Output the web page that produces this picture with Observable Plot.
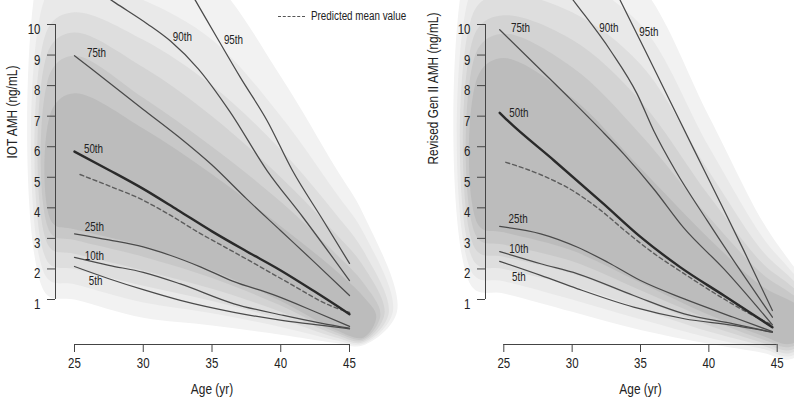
<!DOCTYPE html>
<html><head><meta charset="utf-8">
<script src="https://cdn.jsdelivr.net/npm/d3@7"></script>
<script src="https://cdn.jsdelivr.net/npm/@observablehq/plot@0.6"></script>
<style>
body{margin:0;background:#fff;}
#wrap{position:relative;width:794px;height:403px;overflow:hidden;font-family:"Liberation Sans",Arial,sans-serif;color:#222;}
#left,#right{position:absolute;top:0;}
#left{left:0;}#right{left:397px;}
#legend{position:absolute;left:278px;top:9px;font-size:12px;line-height:14px;color:#222;white-space:nowrap;z-index:5;}
#legend .sw{display:inline-block;width:27px;border-top:1.5px dashed #555;vertical-align:middle;margin-right:6px;}
#legend #legtext{display:inline-block;transform:scaleX(0.82);transform-origin:left center;}
</style></head><body>
<div id="wrap"><div id="left"></div><div id="right"></div><div id="legend"><span class="sw"></span><span id="legtext"></span></div></div>
<script>
// ---------- tick labels and texts ----------
const xTicks = [25, 30, 35, 40, 45];
const yTicks = [1, 2, 3, 4, 5, 6, 7, 8, 9, 10];
const xTitle = "Age (yr)";
const iotTitle = "IOT AMH (ng/mL)";
const genTitle = "Revised Gen II AMH (ng/mL)";
const legendLabel = "Predicted mean value";
const pctNames = ["5th", "10th", "25th", "50th", "75th", "90th", "95th"];

// ---------- IOT panel: [age, AMH] ----------
const iotP5  = [[25,2.08],[27.5,1.68],[30,1.32],[32.7,0.97],[36.6,0.58],[40.2,0.31],[43,0.15],[45,0.04]];
const iotP10 = [[25,2.38],[27.5,2.12],[30,1.89],[32.7,1.51],[36.6,0.86],[40.2,0.48],[43,0.22],[45,0.06]];
const iotP25 = [[25,3.15],[27.5,2.95],[30,2.72],[32,2.44],[34.2,2.06],[36.5,1.6],[39.5,1.15],[42.5,0.6],[45,0.12]];
const iotP50 = [[25,5.84],[27.5,5.24],[30,4.62],[32.5,3.93],[35,3.23],[37.5,2.58],[40,1.95],[42.5,1.25],[45,0.52]];
const iotP75 = [[25,8.98],[27.5,8.1],[30,7.22],[32.5,6.35],[35,5.4],[37.5,4.3],[40,3.25],[42.5,2.2],[45,1.13]];
const iotP90 = [[25,11.6],[28,10.7],[30.3,10.02],[32,9.45],[34,8.55],[36.3,7.15],[39,5.22],[41.6,3.7],[45,1.62]];
const iotP95 = [[32,12.17],[33.8,10.78],[35.4,9.54],[37.07,8.26],[39,6.86],[40.85,5.22],[43,3.65],[45,2.18]];
const iotMean = [[25.4,5.09],[27.5,4.72],[29.8,4.29],[32,3.75],[34,3.2],[36,2.7],[38,2.2],[40.7,1.51],[43.6,0.8],[45,0.58]];
const iotLabelAt = [[26.53,1.59],[26.45,2.41],[26.45,3.36],[26.38,5.91],[26.6,9.05],[32.85,9.57],[36.56,9.48]];

// ---------- Revised Gen II panel ----------
const genP5  = [[24.7,2.25],[27.7,1.79],[30.4,1.35],[34.5,0.75],[38.2,0.37],[41.8,0.15],[44.65,-0.07]];
const genP10 = [[24.7,2.57],[27.7,2.17],[30.4,1.84],[34.5,1.13],[38.2,0.53],[41.8,0.2],[44.65,-0.07]];
const genP25 = [[24.7,3.39],[27.7,3.15],[30.4,2.71],[32.6,2.22],[35,1.62],[38.2,1.02],[41.8,0.42],[44.65,-0.05]];
const genP50 = [[24.7,7.11],[25.27,6.86],[28.67,5.55],[32.3,4.13],[35,3.05],[37.9,2.06],[41.1,1.13],[44.65,0.09]];
const genP75 = [[24.7,9.83],[27.5,8.6],[30,7.5],[32.1,6.55],[33.8,5.75],[36,4.6],[38.15,3.35],[41.1,2.0],[44.65,0.17]];
const genP90 = [[28,12.0],[30.24,10.7],[32.8,9.15],[34.75,7.73],[35.96,6.53],[37.55,5.22],[39.87,3.59],[42.3,1.95],[44.65,0.42]];
const genP95 = [[31.5,12.6],[33.53,10.78],[35.34,9.15],[37.14,7.51],[38.94,5.88],[40.76,4.24],[42.56,2.6],[44.65,0.64]];
const genMean = [[25.15,5.49],[27.5,5.12],[29.9,4.6],[32,3.95],[34,3.2],[36,2.5],[38,1.9],[41.1,1.02],[42.8,0.58],[44.5,0.2]];
const genLabelAt = [[26.1,1.74],[26.1,2.66],[26.05,3.62],[26.1,7.11],[26.22,9.89],[32.68,9.89],[35.61,9.75]];

// ---------- shaded density bands (outer -> inner), values at bandAges ----------
const bandAges = [25, 30, 35, 40, 44, 46];
const iotBandUpper = [
  [13.0, 13.0, 11.5, 8.3, 5.3, 3.8],
  [11.5, 10.8, 9.5, 7.0, 4.5, 3.2],
  [10.4, 9.5, 8.0, 5.9, 3.8, 2.6],
  [9.74, 8.6, 7.0, 5.0, 3.15, 2.1],
  [8.98, 7.6, 6.0, 4.2, 2.5, 1.55],
  [7.75, 6.6, 5.1, 3.4, 1.95, 1.1]];
const iotBandLower = [
  [1.0, 0.4, 0.15, -0.15, -0.42, -0.5],
  [1.5, 0.9, 0.55, 0.1, -0.33, -0.45],
  [2.0, 1.45, 0.95, 0.35, -0.24, -0.4],
  [2.5, 1.95, 1.35, 0.6, -0.15, -0.35],
  [2.95, 2.4, 1.7, 0.8, -0.07, -0.3],
  [3.3, 2.75, 1.95, 0.95, 0.0, -0.25]];
const iotBandLeft = [22.9, 23.0, 23.1, 23.2, 23.3, 23.4];
const iotBandRight = [48.45, 48.15, 47.85, 47.55, 47.25, 46.95];
const iotBandTip = [0.6, 0.6, 0.55, 0.55, 0.5, 0.45];

const genBandUpper = [
  [13.0, 13.0, 11.3, 7.0, 3.5, 2.2],
  [11.8, 11.5, 10.0, 6.0, 3.0, 1.95],
  [11.0, 10.4, 8.7, 5.2, 2.55, 1.7],
  [10.3, 9.5, 7.5, 4.4, 2.15, 1.45],
  [9.7, 8.6, 6.4, 3.7, 1.8, 1.2],
  [8.9, 7.6, 5.3, 3.0, 1.4, 0.95]];
const genBandLower = [
  [1.2, 0.6, 0.0, -0.45, -0.75, -0.95],
  [1.6, 1.0, 0.35, -0.25, -0.62, -0.85],
  [2.0, 1.45, 0.7, -0.05, -0.52, -0.75],
  [2.4, 1.85, 1.0, 0.15, -0.42, -0.65],
  [2.8, 2.25, 1.3, 0.35, -0.32, -0.55],
  [3.2, 2.6, 1.55, 0.5, -0.2, -0.45]];
const genBandLeft = [22.7, 22.8, 22.9, 23.0, 23.1, 23.2];
const genBandRight = [49.0, 48.8, 48.6, 48.4, 48.2, 48.0];
const genBandTip = [0.4, 0.4, 0.4, 0.4, 0.4, 0.4];

// ---------- styling ----------
const shades = ["#f2f2f2", "#e9e9e9", "#dedede", "#d3d3d3", "#c8c8c8", "#bcbcbc"];
const FONT = '"Liberation Sans", Arial, sans-serif';
const NARROW = 0.82;

function bandPolygon(k, upper, lower, left, right, tip) {
  const up = upper[k], lo = lower[k];
  const pts = [[left[k], lo[0] + 0.2], [left[k], up[0] - 0.5]];
  bandAges.forEach((a, i) => pts.push([a, up[i]]));
  pts.push([right[k], tip[k]]);
  for (let i = bandAges.length - 1; i >= 0; i--) pts.push([bandAges[i], lo[i]]);
  return pts;
}

function panel(cfg) {
  const marks = [];
  cfg.upper.forEach((_, k) => {
    marks.push(Plot.line(bandPolygon(k, cfg.upper, cfg.lower, cfg.left, cfg.right, cfg.tip),
      {x: d => d[0], y: d => d[1], fill: shades[k], stroke: "none", curve: "catmull-rom-closed"}));
  });
  const thin = [cfg.series[0], cfg.series[1], cfg.series[2], cfg.series[4], cfg.series[5], cfg.series[6]];
  thin.forEach(s => marks.push(Plot.line(s, {x: d => d[0], y: d => d[1], stroke: "#4a4a4a", strokeWidth: 1.25, curve: "monotone-x"})));
  marks.push(Plot.line(cfg.mean, {x: d => d[0], y: d => d[1], stroke: "#5c5c5c", strokeWidth: 1.4, strokeDasharray: "4,3", curve: "monotone-x"}));
  marks.push(Plot.line(cfg.series[3], {x: d => d[0], y: d => d[1], stroke: "#2a2a2a", strokeWidth: 2.4, curve: "monotone-x"}));
  marks.push(Plot.text(pctNames.map((t, i) => ({t, a: cfg.labelAt[i][0], v: cfg.labelAt[i][1]})),
    {x: "a", y: "v", text: "t", fontSize: 12, fill: "#222", textAnchor: "middle"}));
  // axes (R style)
  const axisDx = cfg.marginLeft - cfg.xRange[0];
  marks.push(Plot.ruleX([xTicks[0]], {x: d => d, y1: yTicks[0], y2: yTicks[yTicks.length - 1], dx: axisDx, stroke: "#444", strokeWidth: 1}));
  marks.push(Plot.axisY({ticks: yTicks, tickSize: 8, tickFormat: () => "", label: null, stroke: "#444"}));
  marks.push(Plot.text(yTicks, {y: d => d, text: d => String(d), frameAnchor: "left", textAnchor: "end", dx: -15, dy: 5, fontSize: 14, fill: "#222"}));
  marks.push(Plot.ruleY([yTicks[0]], {y: d => d, x1: xTicks[0], x2: xTicks[xTicks.length - 1], dy: 45, stroke: "#444", strokeWidth: 1}));
  marks.push(Plot.axisX({ticks: xTicks, tickSize: 8, tickFormat: () => "", label: null, stroke: "#444"}));
  marks.push(Plot.text(xTicks, {x: d => d, text: d => String(d), frameAnchor: "bottom", dy: 23, fontSize: 14, fill: "#222"}));
  marks.push(Plot.text([xTitle], {x: () => (xTicks[0] + xTicks[xTicks.length - 1]) / 2, text: d => d, frameAnchor: "bottom", dy: 49, fontSize: 14.5, fill: "#222"}));
  marks.push(Plot.text([cfg.title], {y: () => (yTicks[0] + yTicks[yTicks.length - 1]) / 2, text: d => d, frameAnchor: "left", dx: cfg.titleDx, dy: cfg.titleDy, rotate: -90, fontSize: 14.5, fill: "#222"}));
  return Plot.plot({
    width: 397, height: 403,
    marginLeft: cfg.marginLeft, marginRight: 0, marginTop: 0, marginBottom: 59,
    x: {domain: [xTicks[0], xTicks[xTicks.length - 1]], range: cfg.xRange},
    y: {domain: [yTicks[0], yTicks[yTicks.length - 1]], range: [299, 24]},
    style: {fontFamily: FONT, fontSize: "14px", background: "transparent", overflow: "visible"},
    marks
  });
}

document.getElementById("left").append(panel({
  series: [iotP5, iotP10, iotP25, iotP50, iotP75, iotP90, iotP95], mean: iotMean, labelAt: iotLabelAt,
  upper: iotBandUpper, lower: iotBandLower, left: iotBandLeft, right: iotBandRight, tip: iotBandTip,
  title: iotTitle, marginLeft: 55, xRange: [74, 349], titleDx: -43, titleDy: -3.5
}));
document.getElementById("right").append(panel({
  series: [genP5, genP10, genP25, genP50, genP75, genP90, genP95], mean: genMean, labelAt: genLabelAt,
  upper: genBandUpper, lower: genBandLower, left: genBandLeft, right: genBandRight, tip: genBandTip,
  title: genTitle, marginLeft: 88, xRange: [106.3, 379.7], titleDx: -52, titleDy: 2.5
}));
document.getElementById("legtext").textContent = legendLabel;

// condensed look (Helvetica Narrow-like): squeeze each text along its baseline about its anchor
document.querySelectorAll("#wrap svg text").forEach(t => {
  if (!t.textContent) return;
  const x = parseFloat(t.getAttribute("x")) || 0;
  const tr = t.getAttribute("transform") || "";
  t.setAttribute("transform", `${tr} translate(${x},0) scale(${NARROW},1) translate(${-x},0)`.trim());
});
</script></body></html>
